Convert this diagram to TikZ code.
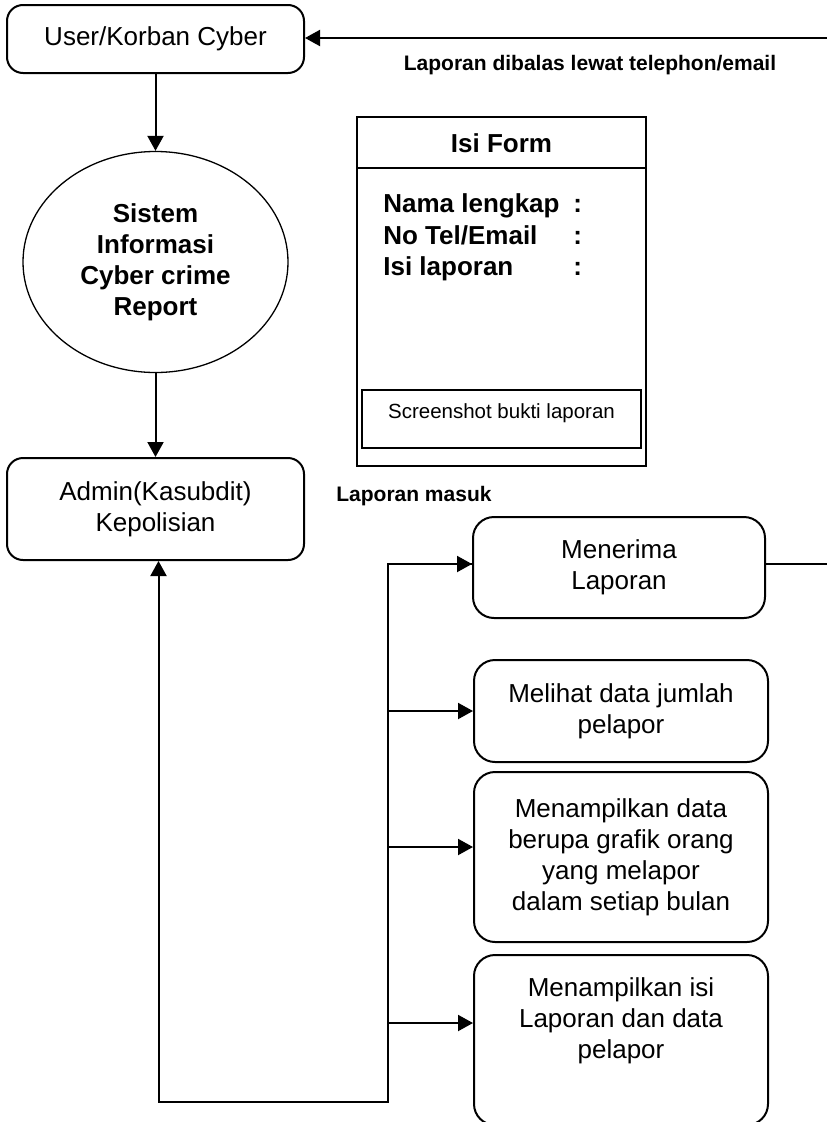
\documentclass[tikz,border=0pt]{standalone}
\usepackage{fontspec}
\setmainfont{Liberation Sans}
\usetikzlibrary{arrows.meta,shapes.geometric}

\begin{document}
\begin{tikzpicture}[x=1pt,y=-1pt,line width=2pt,
  box/.style={draw,rounded corners=16pt,align=center,font=\fontsize{26}{31}\selectfont},
  menu/.style={box,rounded corners=21pt,minimum width=294pt},
  big/.style={font=\fontsize{26}{31}\selectfont\bfseries},
  lbl/.style={font=\fontsize{21}{25}\selectfont\bfseries},
  arr/.style={-{Triangle[length=15pt,width=16pt]}}]
  \useasboundingbox (0,0) rectangle (827,1122);
  \node[box,minimum width=297pt,minimum height=68pt] (user) at (155.5,39) {User/Korban Cyber};
  \node[draw,ellipse,line width=1.3pt,minimum width=265pt,minimum height=221pt,align=center,big] (sis) at (155.5,262) {Sistem\\Informasi\\Cyber crime\\Report};
  \node[box,minimum width=297pt,minimum height=102pt] (admin) at (155.5,509) {Admin(Kasubdit)\\Kepolisian};
  \node[lbl,anchor=base] (balas) at (590,70) {Laporan dibalas lewat telephon/email};
  \node[lbl,anchor=base west] (masuk) at (332,501) {Laporan masuk};
  % form
  \node[draw,minimum width=289pt,minimum height=349pt] (form) at (501.5,291.5) {};
  \draw (357,168) -- (646,168);
  \node[big,anchor=base] (judul) at (501.5,152) {Isi Form};
  \node[big,anchor=base west] (nama) at (379,212) {Nama lengkap};
  \node[big,anchor=base west] (tel) at (379,244) {No Tel/Email};
  \node[big,anchor=base west] (isian) at (379,275) {Isi laporan};
  \foreach \y in {212,244,275}
    \node[big,anchor=base west] at (569,\y) {:};
  \node[draw,line width=1.5pt,minimum width=279pt,minimum height=58pt] (shot) at (501.5,419) {};
  \node[font=\fontsize{20.5}{24}\selectfont] (shottxt) at (501.5,413) {Screenshot bukti laporan};
  % menu admin
  \node[menu,minimum width=292pt,minimum height=101pt] (terima) at (619,567.5) {Menerima\\Laporan};
  \node[menu,minimum height=102pt] (lihat) at (621,711) {Melihat data jumlah\\pelapor};
  \node[menu,minimum height=170pt] (grafik) at (621,857) {Menampilkan data\\berupa grafik orang\\yang melapor\\dalam setiap bulan};
  \node[menu,minimum height=170pt] (isi) at (621,1040) {};
  \node[align=center,font=\fontsize{26}{31}\selectfont] (isitxt) at (621,1021) {Menampilkan isi\\Laporan dan data\\pelapor};
  \coordinate (topR) at (827,38);
  \coordinate (kanan) at (827,564);
  \coordinate (bt) at (388,564);
  \coordinate (bb) at (388,1102);
  \coordinate (gr) at (388,847);
  \coordinate (ii) at (388,1023);
  \draw[arr] (topR) -- (user.east |- topR);
  \draw[arr] (user) -- (sis);
  \draw[arr] (sis) -- (admin);
  \draw (terima.east |- kanan) -- (kanan);
  \draw[arr] (terima.west |- bt) -- (bt) -- (bb) -| ([xshift=3pt]admin.south);
  \draw[arr] (bt) -- (terima.west |- bt);
  \draw[arr] (bt |- lihat.west) -- (lihat.west);
  \draw[arr] (gr) -- (grafik.west |- gr);
  \draw[arr] (ii) -- (isi.west |- ii);
\end{tikzpicture}
\end{document}
